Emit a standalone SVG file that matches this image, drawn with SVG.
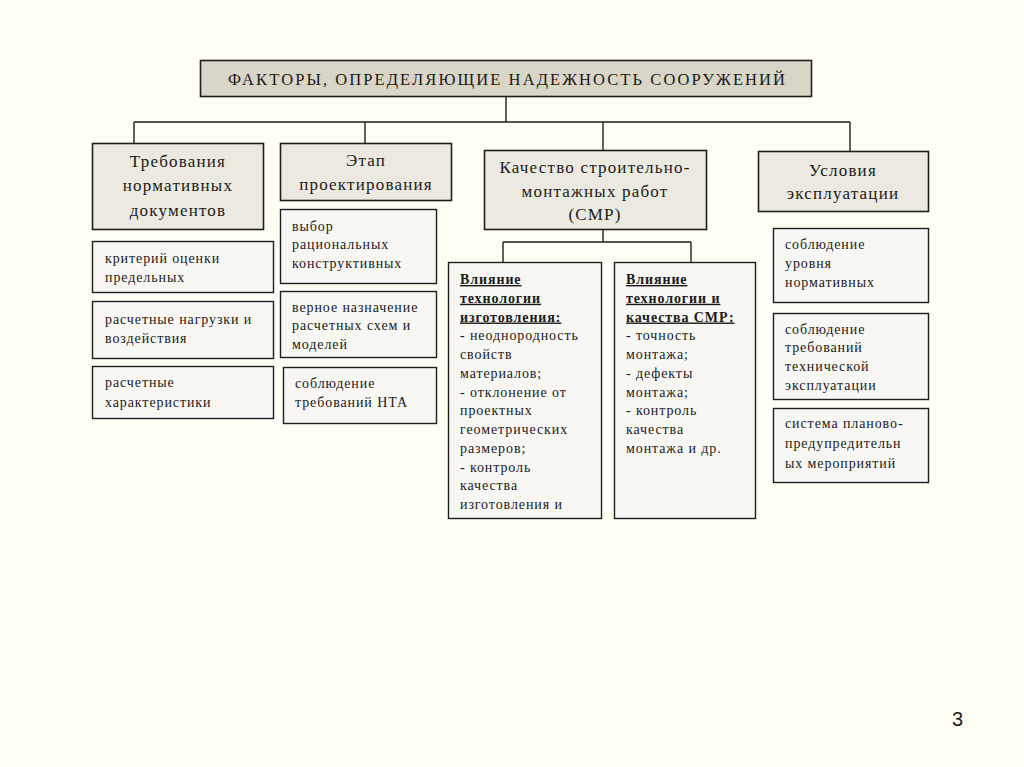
<svg xmlns="http://www.w3.org/2000/svg" width="1024" height="767" viewBox="0 0 1024 767" xml:space="preserve">
<style>
.bg{fill:#fefef4}
.t{fill:#d9d5c7;stroke:#1e1e1e;stroke-width:1.6}
.h{fill:#ebe9e0;stroke:#1e1e1e;stroke-width:1.6}
.s{fill:#f8f7f3;stroke:#1e1e1e;stroke-width:1.4}
.c{stroke:#1e1e1e;stroke-width:1.4;fill:none}
text{font-family:"Liberation Serif","Times New Roman",serif;fill:#1a1a1a}
.tt{font-size:16.5px}
.ht{font-size:17px;letter-spacing:1.2px;text-anchor:middle}
.st{font-size:14px;letter-spacing:0.9px}
.b{font-weight:bold;text-decoration:underline}
</style>
<rect class="bg" x="0" y="0" width="1024" height="767"/>
<g id="connectors">
<path class="c" d="M506,96V122M134,122H850M134,122V143M365,122V143M603,122V150M850,122V151"/>
<path class="c" d="M603,229V242M503,242H691M503,242V262M691,242V262"/>
</g>
<g id="title">
<rect class="t" x="200.5" y="60.5" width="611" height="36"/>
<text class="tt" x="228" y="85" textLength="557" lengthAdjust="spacing">ФАКТОРЫ, ОПРЕДЕЛЯЮЩИЕ  НАДЕЖНОСТЬ СООРУЖЕНИЙ</text>
</g>
<g id="norm">
<rect class="h" x="92.5" y="143.5" width="171" height="86"/>
<text class="ht" x="178" y="167">Требования</text>
<text class="ht" x="178" y="191">нормативных</text>
<text class="ht" x="178" y="216">документов</text>
</g>
<g id="proekt">
<rect class="h" x="280.5" y="143.5" width="171" height="57"/>
<text class="ht" x="366" y="166">Этап</text>
<text class="ht" x="366" y="190">проектирования</text>
</g>
<g id="smr">
<rect class="h" x="484.5" y="150.5" width="222" height="79"/>
<text class="ht" x="595" y="173">Качество строительно-</text>
<text class="ht" x="595" y="197">монтажных работ</text>
<text class="ht" x="595" y="220">(СМР)</text>
</g>
<g id="uslov">
<rect class="h" x="758.5" y="151.5" width="170" height="60"/>
<text class="ht" x="843" y="176">Условия</text>
<text class="ht" x="843" y="199">эксплуатации</text>
</g>
<g id="norm1">
<rect class="s" x="92.5" y="241.5" width="181" height="51"/>
<text class="st" x="105" y="263">критерий оценки</text>
<text class="st" x="105" y="282">предельных</text>
</g>
<g id="norm2">
<rect class="s" x="92.5" y="301.5" width="181" height="57"/>
<text class="st" x="105" y="324">расчетные нагрузки и</text>
<text class="st" x="105" y="343">воздействия</text>
</g>
<g id="norm3">
<rect class="s" x="92.5" y="366.5" width="181" height="52"/>
<text class="st" x="105" y="387">расчетные</text>
<text class="st" x="105" y="407">характеристики</text>
</g>
<g id="proekt1">
<rect class="s" x="280.5" y="209.5" width="156" height="74"/>
<text class="st" x="292" y="231">выбор</text>
<text class="st" x="292" y="249">рациональных</text>
<text class="st" x="292" y="268">конструктивных</text>
</g>
<g id="proekt2">
<rect class="s" x="280.5" y="291.5" width="156" height="66"/>
<text class="st" x="292" y="312">верное назначение</text>
<text class="st" x="292" y="330">расчетных  схем и</text>
<text class="st" x="292" y="349">моделей</text>
</g>
<g id="proekt3">
<rect class="s" x="283.5" y="367.5" width="153" height="56"/>
<text class="st" x="295" y="388">соблюдение</text>
<text class="st" x="295" y="407">требований НТА</text>
</g>
<g id="smr1">
<rect class="s" x="448.5" y="262.5" width="153" height="256"/>
<text class="st b" x="460" y="284">Влияние</text>
<text class="st b" x="460" y="302.75">технологии</text>
<text class="st b" x="460" y="321.5">изготовления:</text>
<text class="st" x="460" y="340.25">- неоднородность</text>
<text class="st" x="460" y="359">свойств</text>
<text class="st" x="460" y="377.75">материалов;</text>
<text class="st" x="460" y="396.5">- отклонение от</text>
<text class="st" x="460" y="415.25">проектных</text>
<text class="st" x="460" y="434">геометрических</text>
<text class="st" x="460" y="452.75">размеров;</text>
<text class="st" x="460" y="471.5">- контроль</text>
<text class="st" x="460" y="490.25">качества</text>
<text class="st" x="460" y="509">изготовления  и</text>
</g>
<g id="smr2">
<rect class="s" x="614.5" y="262.5" width="141" height="256"/>
<text class="st b" x="626" y="284">Влияние</text>
<text class="st b" x="626" y="302.75">технологии  и</text>
<text class="st b" x="626" y="321.5">качества  СМР:</text>
<text class="st" x="626" y="340.25">- точность</text>
<text class="st" x="626" y="359">монтажа;</text>
<text class="st" x="626" y="377.75">- дефекты</text>
<text class="st" x="626" y="396.5">монтажа;</text>
<text class="st" x="626" y="415.25">- контроль</text>
<text class="st" x="626" y="434">качества</text>
<text class="st" x="626" y="452.75">монтажа  и др.</text>
</g>
<g id="uslov1">
<rect class="s" x="773.5" y="228.5" width="155" height="74"/>
<text class="st" x="785" y="249">соблюдение</text>
<text class="st" x="785" y="268">уровня</text>
<text class="st" x="785" y="287">нормативных</text>
</g>
<g id="uslov2">
<rect class="s" x="773.5" y="313.5" width="155" height="86"/>
<text class="st" x="785" y="334">соблюдение</text>
<text class="st" x="785" y="352">требований</text>
<text class="st" x="785" y="371">технической</text>
<text class="st" x="785" y="390">эксплуатации</text>
</g>
<g id="uslov3">
<rect class="s" x="773.5" y="408.5" width="155" height="74"/>
<text class="st" x="785" y="428">система планово-</text>
<text class="st" x="785" y="448">предупредительн</text>
<text class="st" x="785" y="468">ых мероприятий</text>
</g>
<text x="952" y="726" style="font-family:'Liberation Sans',Arial,sans-serif;font-size:20px">3</text>
</svg>
